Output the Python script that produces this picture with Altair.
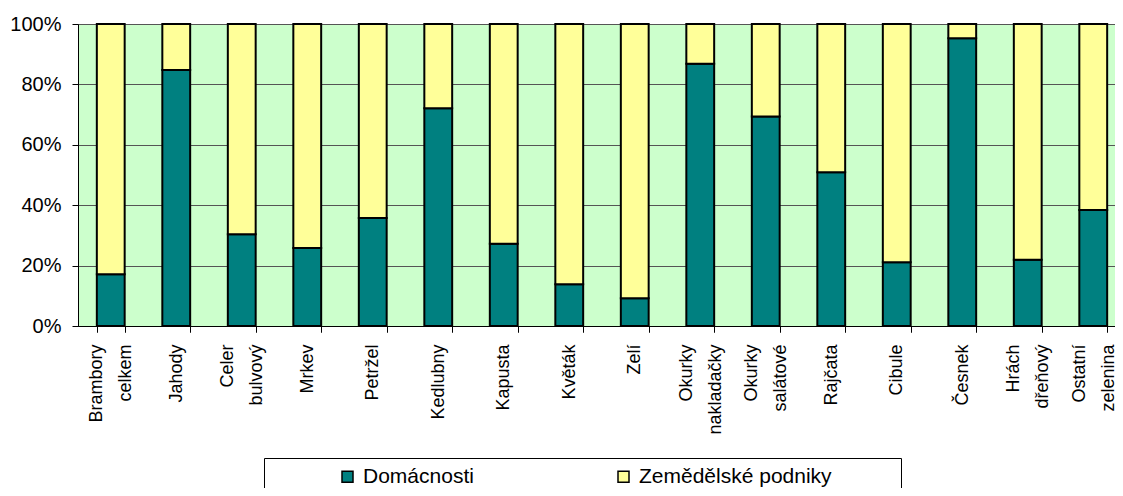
import altair as alt
import pandas as pd

categories = ["Brambory celkem", "Jahody", "Celer bulvový", "Mrkev", "Petržel", "Kedlubny",
              "Kapusta", "Květák", "Zelí", "Okurky nakladačky", "Okurky salátové", "Rajčata",
              "Cibule", "Česnek", "Hrách dřeňový", "Ostatní zelenina"]
domacnosti = [17.1, 84.8, 30.4, 25.8, 35.8, 72.1, 27.2, 13.8, 9.2, 86.8, 69.4, 50.9, 21.1, 95.3, 21.9, 38.4]
podniky = [82.9, 15.2, 69.6, 74.2, 64.2, 27.9, 72.8, 86.2, 90.8, 13.2, 30.6, 49.1, 78.9, 4.7, 78.1, 61.6]
series = ["Domácnosti", "Zemědělské podniky"]
colors = ["#008080", "#FFFF99"]
y_ticks = [0, 0.2, 0.4, 0.6, 0.8, 1.0]

rows = []
for c, d, z in zip(categories, domacnosti, podniky):
    rows.append({"kategorie": c, "skupina": series[0], "hodnota": d, "poradi": 0})
    rows.append({"kategorie": c, "skupina": series[1], "hodnota": z, "poradi": 1})
df = pd.DataFrame(rows)

FONT = "Liberation Sans"
x_scale = alt.Scale(range=[0, 1048], paddingInner=0.575, paddingOuter=0.2875)
axis_common = dict(orient="bottom", labelAngle=-90, labelAlign="right",
                   labelLineHeight=29, labelFontSize=18, labelFont=FONT, labelColor="black",
                   labelPadding=12, tickBand="extent", tickSize=6, tickColor="black",
                   domainColor="black", grid=False, labelOverlap=False)

# single-word labels centred on the band
axis_single = alt.Axis(labelBaseline="middle",
                       labelExpr="indexof(datum.label, ' ') >= 0 ? '' : datum.label",
                       **axis_common)
# two-word labels split into two lines, block centred on the band
axis_double = alt.Axis(labelBaseline="line-bottom",
                       labelExpr="indexof(datum.label, ' ') >= 0 ? split(datum.label, ' ') : ''",
                       **axis_common)

base = alt.Chart(df)

bars = base.mark_bar(stroke="black", strokeWidth=2).encode(
    x=alt.X("kategorie:N", sort=categories, title=None, scale=x_scale, axis=axis_single),
    y=alt.Y("hodnota:Q", stack="normalize", title=None,
            scale=alt.Scale(domain=[0, 1], nice=False),
            axis=alt.Axis(values=y_ticks, format=".0%", labelFontSize=20, labelFont=FONT,
                          labelColor="black", labelPadding=11, tickSize=6, tickColor="black",
                          domainColor="black", grid=True, gridColor="#555555", gridWidth=1)),
    color=alt.Color("skupina:N", sort=series,
                    scale=alt.Scale(domain=series, range=colors),
                    legend=alt.Legend(orient="none", legendX=186, legendY=434,
                                      direction="horizontal", title="\u00a0",
                                      titleOrient="right", titlePadding=61, titleFontSize=21,
                                      symbolType="square", symbolSize=121,
                                      symbolStrokeColor="black", symbolStrokeWidth=1.5,
                                      symbolOffset=65, labelOffset=5, columnPadding=74,
                                      labelFontSize=21, labelFont=FONT, labelColor="black",
                                      labelLimit=400,
                                      padding=8, strokeColor="black", fillColor="white")),
    order=alt.Order("poradi:Q"),
)

label_layer = base.mark_bar(opacity=0).encode(
    x=alt.X("kategorie:N", sort=categories, title=None, scale=x_scale, axis=axis_double),
)

chart = alt.layer(bars, label_layer).resolve_axis(x="independent").properties(
    width=1037, height=302,
    autosize=alt.AutoSizeParams(type="none"),
    padding={"left": 70, "top": 16, "right": 0, "bottom": 162},
    view=alt.ViewBackground(fill="#CCFFCC", stroke="#808080", strokeWidth=1),
).configure_view(
    fill="#CCFFCC", stroke="#808080", strokeWidth=1
).configure(background="white")

chart.save("out.html", embed_options={"renderer": "svg", "actions": False})
